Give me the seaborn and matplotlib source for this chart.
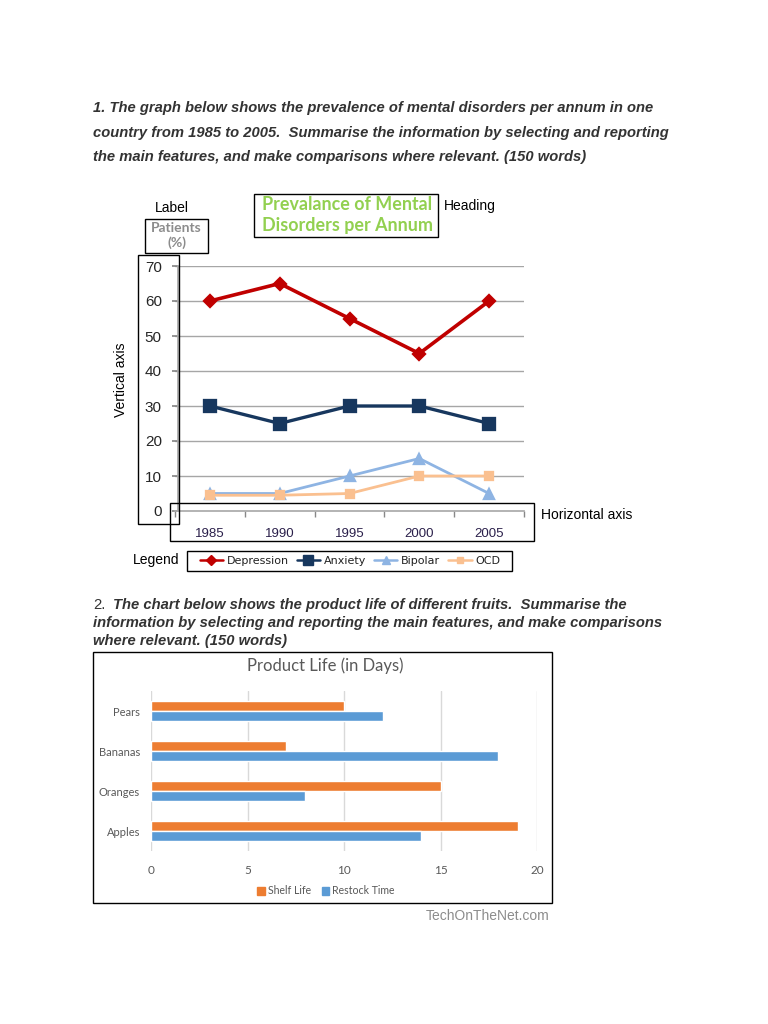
import matplotlib
matplotlib.use("Agg")
import matplotlib.pyplot as plt
from matplotlib.patches import Rectangle
from matplotlib.lines import Line2D
import seaborn as sns
import pandas as pd
import numpy as np

# ---------------- data ----------------
years = ["1985", "1990", "1995", "2000", "2005"]
depression = [60, 65, 55, 45, 60]
anxiety = [30, 25, 30, 30, 25]
bipolar = [5, 5, 10, 15, 5]
ocd = [4.5, 4.5, 5, 10, 10]
series_names = ["Depression", "Anxiety", "Bipolar", "OCD"]
y_ticks = [0, 10, 20, 30, 40, 50, 60, 70]

fruits = ["Pears", "Bananas", "Oranges", "Apples"]
shelf_life = [10, 7, 15, 19]
restock_time = [12, 18, 8, 14]
bar_series = ["Shelf Life", "Restock Time"]
x_ticks_bar = [0, 5, 10, 15, 20]

# ---------------- figure ----------------
sns.set_theme(style="white")
plt.rcParams["font.family"] = ["Liberation Sans", "DejaVu Sans"]
W, H = 768, 1024
fig = plt.figure(figsize=(W / 100, H / 100), dpi=100)
fig.patch.set_facecolor("white")


def fx(x):
    return x / W


def fy(y):
    return 1 - y / H


def rect(x0, y0, x1, y1, lw=1.0, ec="black"):
    fig.add_artist(Rectangle((fx(x0), fy(y1)), (x1 - x0) / W, (y1 - y0) / H,
                             transform=fig.transFigure, fill=False, ec=ec, lw=lw))


def axes_px(x0, y0, x1, y1):
    return fig.add_axes([fx(x0), fy(y1), (x1 - x0) / W, (y1 - y0) / H])


qcol = "#333333"
qfont = dict(fontsize=10.6, fontweight="bold", fontstyle="italic", color=qcol,
             va="center", ha="left")
q1 = ["1. The graph below shows the prevalence of mental disorders per annum in one",
      "country from 1985 to 2005.  Summarise the information by selecting and reporting",
      "the main features, and make comparisons where relevant. (150 words)"]
for i, line in enumerate(q1):
    fig.text(fx(93), fy(108 + 24.5 * i), line, **qfont)

# ---------------- line chart ----------------
df = pd.DataFrame({
    "Year": years * 4,
    "Value": depression + anxiety + bipolar + ocd,
    "Series": sum([[s] * len(years) for s in series_names], []),
})
line_colors = ["#c00000", "#17375e", "#8eb4e3", "#fac090"]
ax = axes_px(175, 266, 524, 511)
sns.pointplot(data=df, x="Year", y="Value", hue="Series", order=years,
              hue_order=series_names, palette=line_colors,
              markers=["D", "s", "^", "s"], linestyles="-", ax=ax,
              errorbar=None, legend=False, markersize=7, linewidth=2.2)
msizes = [6, 8, 7, 6]
lws = [2.6, 2.4, 2.0, 2.0]
for ln, ms, lw in zip(ax.lines[:4], msizes, lws):
    ln.set_markersize(ms)
    ln.set_linewidth(lw)
ax.set_xlim(-0.5, 4.5)
ax.set_ylim(0, 70)
ax.set_yticks(y_ticks)
ax.set_yticklabels([str(v) for v in y_ticks], fontsize=9.5, color="#2a1f4a")
ax.set_xticks(range(len(years)))
ax.set_xticklabels(years, fontsize=9.5, color="#2a1f4a")
ax.set_xticks(np.arange(-0.5, 5, 1), minor=True)
ax.tick_params(axis="x", which="major", length=0, pad=12)
ax.tick_params(axis="x", which="minor", length=4, color="#888888", direction="out", bottom=True)
ax.tick_params(axis="y", length=4, color="#888888", direction="out", left=True, pad=8)
ax.set_xlabel("")
ax.set_ylabel("")
for v in y_ticks[1:]:
    ax.axhline(v, color="#a6a6a6", lw=1.0, zorder=0)
for s in ["top", "right"]:
    ax.spines[s].set_visible(False)
ax.spines["left"].set_position(("data", -0.45))
ax.spines["left"].set_color("#aaaaaa")
ax.spines["bottom"].set_color("#aaaaaa")
ax.patch.set_alpha(0)

# annotations around the line chart
fig.text(fx(155), fy(208), "Label", fontsize=10, color="black", va="center", ha="left")
rect(145, 219, 208, 253)
fig.text(fx(176.5), fy(235.5), "Patients\n(%)", fontsize=10, color="#8c8c8c",
         fontweight="bold", va="center", ha="center", family=["Lato", "DejaVu Sans"],
         linespacing=1.3)
rect(254, 194, 438, 237)
fig.text(fx(347), fy(215), "Prevalance of Mental\nDisorders per Annum", fontsize=12.9,
         color="#92d050", fontweight="bold", va="center", ha="center",
         family=["Lato", "DejaVu Sans"], linespacing=1.3)
fig.text(fx(444), fy(206), "Heading", fontsize=10, color="black", va="center", ha="left")
rect(138, 255, 179, 524)
rect(170, 503, 534, 541)
fig.text(fx(541), fy(515), "Horizontal axis", fontsize=10, color="black", va="center", ha="left")
fig.text(fx(121), fy(380), "Vertical axis", fontsize=10, color="black", va="center",
         ha="center", rotation=90)
fig.text(fx(133), fy(560), "Legend", fontsize=10, color="black", va="center", ha="left")
rect(187, 551, 512, 571)
handles = [Line2D([], [], color=c, marker=m, lw=1.8, ms=ms)
           for c, m, ms in zip(line_colors, ["D", "s", "^", "s"], [5, 7, 6, 5])]
fig.legend(handles, series_names, loc="center", bbox_to_anchor=(fx(350), fy(561)),
           ncol=4, frameon=False, handlelength=2.1, handletextpad=0.35,
           columnspacing=0.7, prop={"family": ["DejaVu Sans"], "size": 8},
           labelcolor="#222222")

# ---------------- question 2 ----------------
fig.text(fx(93), fy(605), "2.", fontsize=10.6, color=qcol, va="center", ha="left")
fig.text(fx(113), fy(605), "The chart below shows the product life of different fruits.  Summarise the",
         **qfont)
fig.text(fx(93), fy(623), "information by selecting and reporting the main features, and make comparisons",
         **qfont)
fig.text(fx(93), fy(641), "where relevant. (150 words)", **qfont)

# ---------------- bar chart ----------------
rect(93, 652, 552, 903)
bdf = pd.DataFrame({
    "Fruit": fruits * 2,
    "Days": shelf_life + restock_time,
    "Series": [bar_series[0]] * 4 + [bar_series[1]] * 4,
})
bar_colors = ["#ed7d31", "#5b9bd5"]
bax = axes_px(151, 691, 537, 851)
sns.barplot(data=bdf, x="Days", y="Fruit", hue="Series", order=fruits,
            hue_order=bar_series, palette=bar_colors, orient="y", ax=bax,
            width=0.52, legend=False, saturation=1, errorbar=None)
bax.set_xlim(0, 20)
bax.set_xticks(x_ticks_bar)
bax.set_xticklabels([str(v) for v in x_ticks_bar], fontsize=8.5, color="#595959",
                    family=["Lato", "DejaVu Sans"])
bax.set_yticklabels(fruits, fontsize=8, color="#595959", family=["Lato", "DejaVu Sans"])
bax.tick_params(axis="both", length=0)
bax.tick_params(axis="x", pad=10)
bax.tick_params(axis="y", pad=8)
bax.set_xlabel("")
bax.set_ylabel("")
bax.grid(axis="x", color="#d9d9d9", lw=1)
bax.set_axisbelow(True)
for s in ["top", "right", "bottom", "left"]:
    bax.spines[s].set_visible(False)
bax.patch.set_alpha(0)
fig.text(fx(325), fy(666), "Product Life (in Days)", fontsize=12, color="#595959",
         va="center", ha="center", family=["Lato", "DejaVu Sans"])
bh = [Rectangle((0, 0), 1, 1, color=c) for c in bar_colors]
fig.legend(bh, bar_series, loc="center", bbox_to_anchor=(fx(326), fy(891)), ncol=2,
           frameon=False, handlelength=0.7, handleheight=0.7, handletextpad=0.3,
           columnspacing=1.0, prop={"family": ["Lato", "DejaVu Sans"], "size": 7.6},
           labelcolor="#595959")
fig.text(fx(549), fy(916), "TechOnTheNet.com", fontsize=10, color="#8c8c8c",
         va="center", ha="right")

fig.savefig("out.png", dpi=100)
